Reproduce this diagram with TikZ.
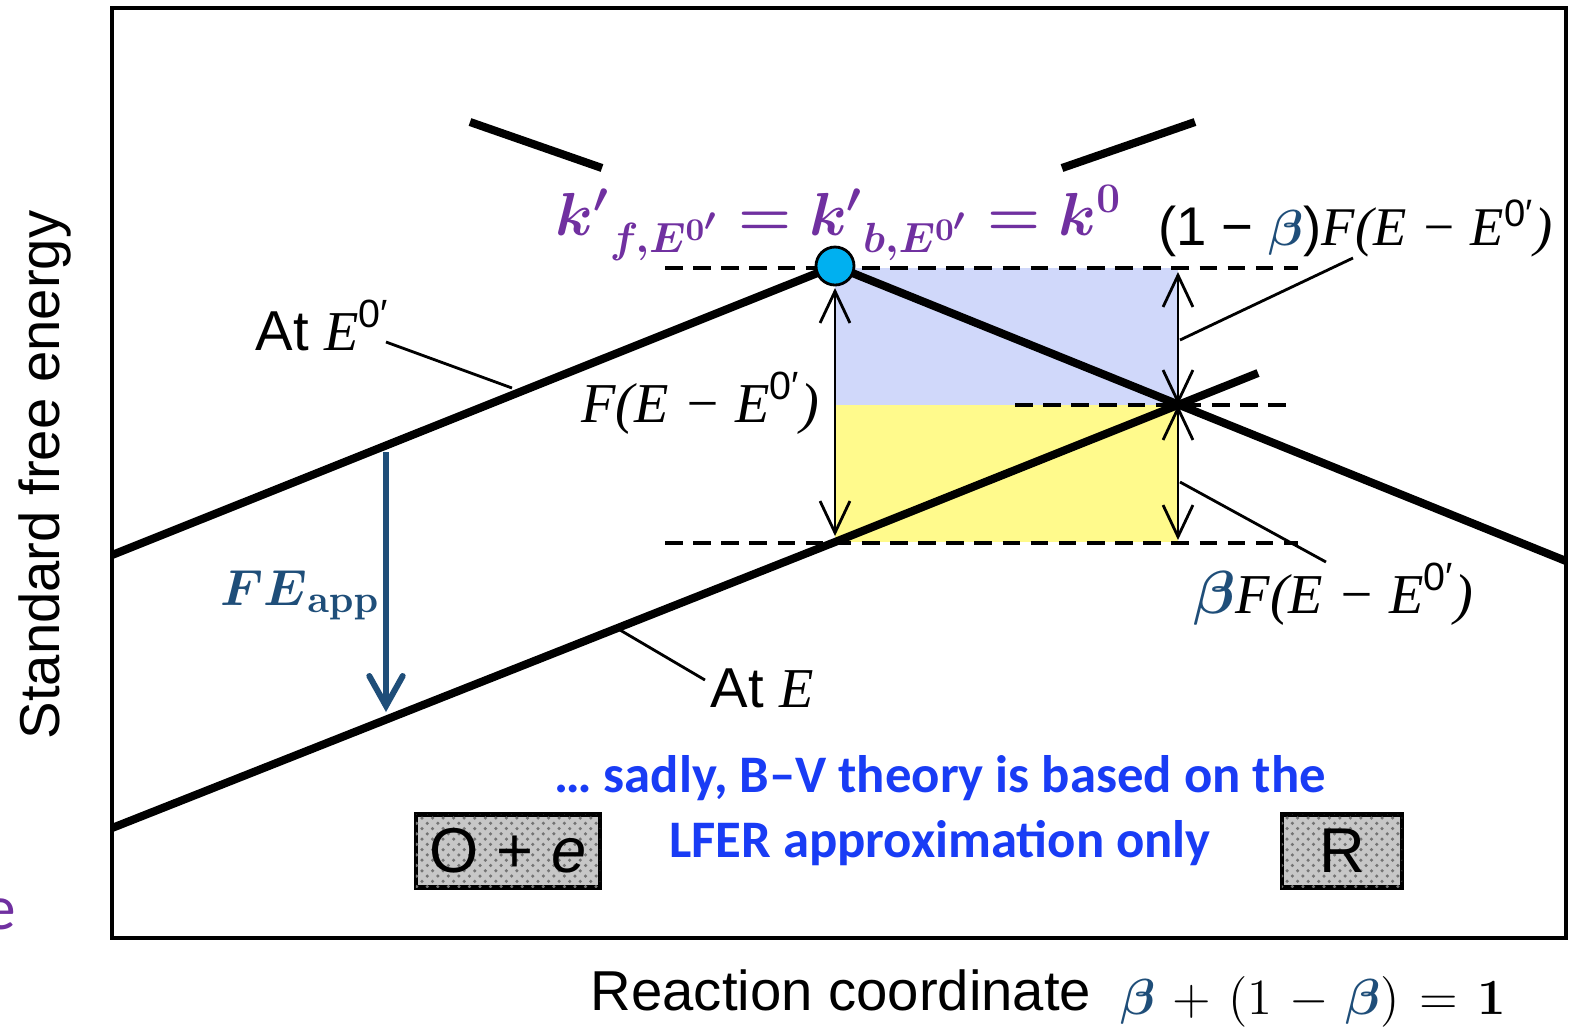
\documentclass[tikz,border=0pt]{standalone}
\usepackage{amsmath,amssymb}
\usepackage[no-math]{fontspec}
\setmainfont{Liberation Sans}
\newfontfamily\tnr{Liberation Serif}
\newfontfamily\calfont{Carlito}
\usetikzlibrary{arrows.meta,patterns}
\definecolor{lav}{RGB}{208,216,250}
\definecolor{lemon}{RGB}{255,250,140}
\definecolor{navy}{RGB}{31,78,121}
\definecolor{plum}{RGB}{112,48,160}
\definecolor{vivid}{RGB}{25,60,245}
\definecolor{dot}{RGB}{0,176,240}
\tikzset{>=Stealth,every node/.style={font=\fontsize{16}{19}\selectfont,inner sep=0pt},
 curve/.style={line width=2.3pt},guide/.style={line width=.9pt,dash pattern=on 5pt off 3pt},
 lead/.style={line width=.8pt},
 gap/.style={line width=.8pt,{Straight Barb[length=9pt,width=8.5pt]}-{Straight Barb[length=9pt,width=8.5pt]}},
 species/.style={draw,line width=1.3pt,fill=black!22,postaction={pattern=crosshatch dots,pattern color=black!55},minimum height=.73cm,font=\fontsize{18}{20}\selectfont}}
\newcommand{\Ez}{{\tnr\itshape E}\textsuperscript{0′}}
\newcommand{\dG}{{\tnr\itshape F(E − }\Ez{\tnr\itshape )}}
\newcommand{\bt}{\textcolor{navy}{\ensuremath{\boldsymbol\beta}}}

\begin{document}
\begin{tikzpicture}[x=0.01cm,y=-0.01cm]
\useasboundingbox (0,0) rectangle (1572,1029);
\coordinate (apex) at (835,266);\coordinate (cross) at (1178,405);\coordinate (foot) at (835,542);
\coordinate (oxA) at (112,555);\coordinate (redA) at (1566,561);
\coordinate (oxB) at (112,828);\coordinate (redB) at (1258,373);
% shaded gaps
\fill[lav] (835,268) rectangle (cross);\fill[lemon] (foot) rectangle (cross);
\draw[guide] (665,268)--(1298,268);\draw[guide] (1015,405)--(1292,405);\draw[guide] (665,543)--(1298,543);
\draw[line width=1.4pt] (112,8) rectangle (1566,938);
\draw[curve] (470,122)--(602,168);\draw[curve] (1062,168)--(1195,122);
\draw[curve] (oxA)--(apex)--(redA);\draw[curve] (oxB)--(foot)--(redB);
\draw[gap] (835,288)--(835,536);\draw[gap] (1178,272)--(cross);\draw[gap] (cross)--(1178,540);
\fill[dot,draw=black,line width=.8pt] (apex) circle(19);
% labels
\node[anchor=base west] (aeo) at (255,350) {At \Ez};
\node[anchor=base west] (ae) at (710,707) {At {\tnr\itshape E}};
\node[anchor=base east] (full) at (820,422) {\dG};
\node[anchor=base east,font=\fontsize{15.5}{18}\selectfont] (back) at (1553,245) {(1 − \bt)\dG};
\node[anchor=base west] (fwd) at (1193,613) {\bt\dG};
\coordinate (aeoA) at (386,342);\coordinate (aeoB) at (512,388);
\coordinate (aeA) at (705,680);\coordinate (aeB) at (620,630);
\coordinate (backA) at (1353,258);\coordinate (backB) at (1180,340);
\coordinate (fwdA) at (1326,562);\coordinate (fwdB) at (1180,482);
\draw[lead] (aeoA)--(aeoB);\draw[lead] (aeA)--(aeB);\draw[lead] (backA)--(backB);\draw[lead] (fwdA)--(fwdB);
\draw[navy,line width=1.7pt,-{Straight Barb[length=8.5pt,width=9.5pt,line cap=round]}] (386,452)--(386,712);
\node[anchor=base west,text=navy,font=\fontsize{15}{18}\selectfont] (fe) at (220,605) {$\boldsymbol{FE}_{\mathbf{app}}$};
\node[anchor=base west,text=plum,font=\fontsize{18.5}{22}\selectfont] (rate) at (555,235)
 {$\thickmuskip=4.5mu\boldsymbol{{k'}_{f,E^{0'}}={k'}_{b,E^{0'}}=k^{0}}$};
\node[species,minimum width=1.84cm] (ox) at (508,851) {O + \textit{e}};
\node[species,minimum width=1.2cm] (red) at (1342,851) {R};
\node[anchor=base,text=vivid,font=\calfont\bfseries\fontsize{15}{18}\selectfont] (sad1) at (940,792) {… sadly, B–V theory is based on the};
\node[anchor=base,text=vivid,font=\calfont\bfseries\fontsize{15}{18}\selectfont] (sad2) at (940,857) {LFER approximation only};
\node[rotate=90] (ylab) at (45,475) {Standard free energy};
\node[anchor=base west] (xlab) at (590,1010) {Reaction coordinate};
\node[anchor=base west,font=\fontsize{15.3}{18}\selectfont] (sum) at (1120,1014)
 {$\medmuskip=6mu\thickmuskip=7mu\bt+(1-\bt)=\mathbf{1}$};
\node[anchor=base,text=plum,font=\calfont\fontsize{18}{20}\selectfont] (stray) at (0,929) {e};
\end{tikzpicture}
\end{document}
